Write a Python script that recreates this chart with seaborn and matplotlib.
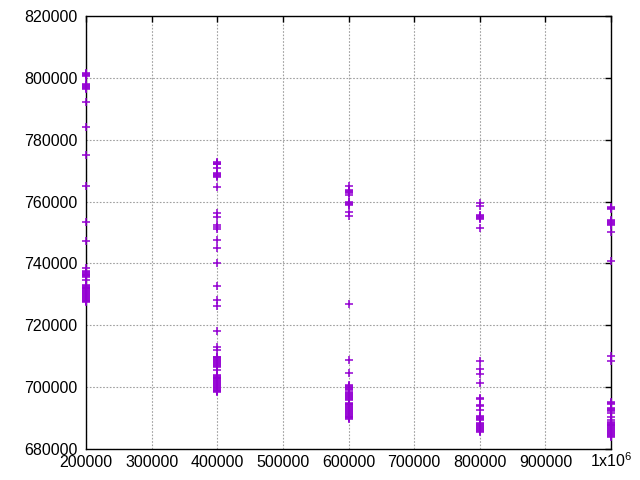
import matplotlib
matplotlib.use("Agg")
import matplotlib.pyplot as plt
import seaborn as sns
import pandas as pd

x200 = [801500, 801200, 800900, 800600, 797900, 797600, 797300, 797000, 796700,
        796400, 792300, 784000, 775200, 764900, 753500, 747400, 738600, 737600,
        737300, 737000, 736700, 736400, 736100, 735800, 735500, 734600, 733100,
        732800, 732500, 732200, 731900, 731600, 731300, 731000, 730700, 730400,
        730100, 729800, 729500, 729200, 728900, 728600, 728300, 728000, 727700,
        727400]
x400 = [772900, 772600, 772300, 772000, 770700, 769100, 768800, 768500, 768200,
        767900, 764600, 756400, 755100, 752400, 751700, 751000, 747600, 744900,
        740000, 732700, 728200, 726200, 718300, 713100, 712000, 709900, 709600,
        709300, 709000, 708700, 708400, 708100, 707800, 707500, 707200, 706900,
        706600, 705600, 704000, 703700, 703400, 703100, 702800, 702500, 702200,
        701900, 701600, 701300, 701000, 700700, 700400, 700100, 699800, 699500,
        699200, 698900, 698600, 698300]
x600 = [765000, 763700, 763400, 763100, 762800, 762200, 759900, 759600, 759300,
        759000, 756600, 755300, 727000, 708800, 704700, 700700, 700400, 700100,
        699800, 699500, 699200, 698300, 698000, 697700, 697400, 697100, 696800,
        696500, 696200, 695900, 695000, 694700, 694400, 694100, 693800, 693500,
        693200, 692900, 692600, 692300, 692000, 691700, 691400, 691100, 690800,
        690500, 690200, 689900, 689600]
x800 = [759600, 758600, 755600, 755300, 755000, 754700, 754400, 751600, 708500,
        705800, 704200, 701300, 696600, 696300, 694300, 694000, 692600, 690700,
        690400, 690100, 689800, 689500, 688300, 688000, 687700, 687400, 687100,
        686800, 686500, 686200, 685900, 685600]
x1000 = [758300, 758000, 757700, 754000, 753700, 753400, 753100, 752800, 752500,
         750300, 740900, 710200, 708500, 695300, 695000, 694700, 693200, 692900,
         692600, 692300, 691600, 690500, 689400, 688800, 688500, 688200, 687900,
         687600, 687300, 687000, 686700, 686400, 686100, 685800, 685500, 685200,
         684900, 684600, 684300, 684000]

xs = [200000] * len(x200) + [400000] * len(x400) + [600000] * len(x600) \
    + [800000] * len(x800) + [1000000] * len(x1000)
ys = x200 + x400 + x600 + x800 + x1000
df = pd.DataFrame({"x": xs, "y": ys})

xticks = [200000, 300000, 400000, 500000, 600000, 700000, 800000, 900000, 1000000]
xticklabels = ["200000", "300000", "400000", "500000", "600000", "700000",
               "800000", "900000", r"1x10$^{6}$"]
yticks = [680000, 700000, 720000, 740000, 760000, 780000, 800000, 820000]

sns.set_style("white")
plt.rcParams["font.family"] = ["Liberation Sans", "DejaVu Sans"]
plt.rcParams["mathtext.fontset"] = "custom"
plt.rcParams["mathtext.rm"] = "Liberation Sans"

fig = plt.figure(figsize=(6.4, 4.8), dpi=100)
ax = fig.add_axes([86 / 640, 1 - 449 / 480, (611 - 86) / 640, (449 - 16) / 480])

sns.scatterplot(data=df, x="x", y="y", marker="+", color="#9400d3", s=30,
                linewidth=1.1, ax=ax, clip_on=False, zorder=3, legend=False)

ax.set_xlim(200000, 1000000)
ax.set_ylim(680000, 820000)
ax.set_xticks(xticks)
ax.set_xticklabels(xticklabels)
ax.set_yticks(yticks)
ax.set_yticklabels([str(v) for v in yticks])
ax.set_xlabel("")
ax.set_ylabel("")
ax.grid(True, color="#a0a0a0", linestyle=(0, (1.5, 1.5)), linewidth=0.8)
ax.tick_params(direction="in", length=4.5, width=1, top=True, right=True,
               labelsize=11.5, colors="black")
ax.tick_params(axis="y", pad=6)
ax.tick_params(axis="x", pad=13)
for lab in ax.get_xticklabels():
    lab.set_verticalalignment("baseline")
for sp in ax.spines.values():
    sp.set_visible(True)
    sp.set_color("black")
    sp.set_linewidth(1)

fig.savefig("out.png", dpi=100)
